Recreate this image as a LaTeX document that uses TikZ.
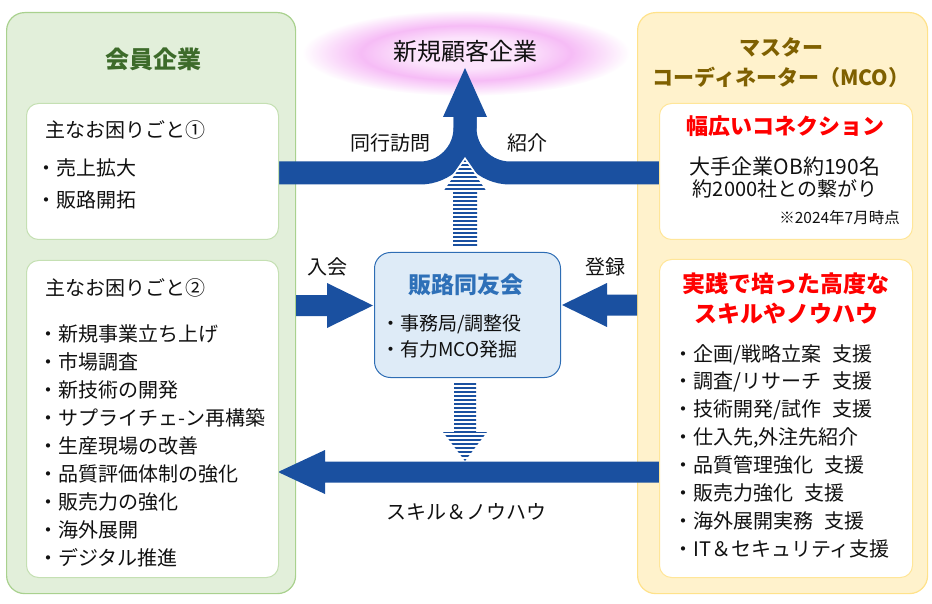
\documentclass[tikz,border=0pt]{standalone}
\usepackage{fontspec}
\setmainfont{Noto Sans CJK JP}
\usetikzlibrary{calc}

\definecolor{flowblue}{HTML}{1A50A0}
\definecolor{memfill}{HTML}{E2EFDA}
\definecolor{memline}{HTML}{A9D18E}
\definecolor{memedge}{HTML}{C5E0B3}
\definecolor{memtitle}{HTML}{3D6B2A}
\definecolor{mcofill}{HTML}{FFF2CC}
\definecolor{mcoline}{HTML}{FFE28A}
\definecolor{mcoedge}{HTML}{FFE699}
\definecolor{mcotitle}{HTML}{7F6000}
\definecolor{hubfill}{HTML}{DEEBF7}
\definecolor{hubline}{HTML}{2E6DB4}
\definecolor{hubtitle}{HTML}{2E70B8}
\definecolor{ink}{HTML}{111111}
\definecolor{glowA}{HTML}{FCE4FC}
\definecolor{glowB}{HTML}{F6BCF6}
\definecolor{glowC}{HTML}{FBE0FB}
\pgfdeclareradialshading{pinkglow}{\pgfpoint{0bp}{0bp}}{color(0bp)=(glowA); color(9bp)=(glowA); color(16bp)=(glowB); color(21bp)=(glowC); color(25bp)=(white); color(50bp)=(white)}

\newcommand{\itemgap}{\hspace{0.55em}}

\tikzset{
  panel/.style={draw, line width=1.2pt, rounded corners=18pt, anchor=north west, inner sep=0pt},
  card/.style={draw, fill=white, line width=1pt, rounded corners=12pt, anchor=north west, inner sep=0pt},
  lbl/.style={text=ink, inner sep=0pt, anchor=base, font=\fontsize{20}{24}\selectfont},
  item/.style={text=ink, inner sep=0pt, anchor=base west, font=\fontsize{20}{24}\selectfont},
  ttl/.style={inner sep=0pt, anchor=base, font=\fontsize{23}{28}\selectfont\bfseries},
}

\begin{document}
\begin{tikzpicture}[x=1pt, y=-1pt]
  \useasboundingbox (0,0) rectangle (932,604);

  % the two sides
  \node[panel, draw=memline, fill=memfill, minimum width=289pt, minimum height=581pt] (member) at (6,12) {};
  \node[panel, draw=mcoline, fill=mcofill, minimum width=290pt, minimum height=581pt] (mco) at (637,12) {};

  % glow behind the new customers
  \shade[shading=pinkglow] (466,53) ellipse [x radius=164pt, y radius=43pt];
  \node[lbl, font=\fontsize{24}{28}\selectfont] (newco) at (465,61) {新規顧客企業};

  % flow up to the new customers
  \coordinate (upTip) at (465,68);
  \draw[flowblue, line width=23pt] (278,173) -- (420,173) .. controls (444.8,173) and (465,152.8) .. (465,128) -- (465,116);
  \draw[flowblue, line width=23pt] (659,173) -- (510,173) .. controls (485.2,173) and (465,152.8) .. (465,128) -- (465,116);
  \fill[flowblue] (upTip) -- (487,117) -- (443,117) -- cycle;

  % striped arrow from the hub into the flow
  \fill[white] (452,246) -- (452,193) -- (440,193) -- (465,157) -- (490,193) -- (478,193) -- (478,246) -- cycle;
  \begin{scope}
    \clip (453,246) -- (453,192) -- (443,192) -- (465,160) -- (487,192) -- (477,192) -- (477,246) -- cycle;
    \foreach \s in {0,...,21}
      \fill[flowblue] (440,160+4*\s) rectangle (490,162+4*\s);
  \end{scope}

  % hub
  \node[card, draw=hubline, fill=hubfill, minimum width=186pt, minimum height=125pt, rounded corners=16pt] (hub) at (374,252) {};
  \node[ttl, text=hubtitle] (hubname) at (466,293) {販路同友会};
  \node[item, font=\fontsize{19}{23}\selectfont] (hub1) at (381,330) {・事務局/調整役};
  \node[item, font=\fontsize{19}{23}\selectfont] (hub2) at (381,356) {・有力MCO発掘};

  % join and register
  \coordinate (joinTip) at (373,305.5);
  \fill[flowblue] (member.east |- 0,295) -- (327,295) -- (327,283) -- (joinTip) -- ++(-46,22.5) -- ++(0,-12) -- (member.east |- 0,316) -- cycle;
  \node[lbl] (join) at (327,274) {入会};
  \coordinate (regTip) at (562,305);
  \fill[flowblue] (mco.west |- 0,294.5) -- (607,294.5) -- (607,283) -- (regTip) -- ++(45,22) -- ++(0,-11.5) -- (mco.west |- 0,315.5) -- cycle;
  \node[lbl] (reg) at (605,274) {登録};

  % striped arrow down from the hub
  \begin{scope}
    \clip (454,383) -- (476,383) -- (476,432) -- (487,432) -- (465,461) -- (443,432) -- (454,432) -- cycle;
    \foreach \s in {0,...,19}
      \fill[flowblue] (440,383+4*\s) rectangle (490,385+4*\s);
  \end{scope}

  % skills back to the members
  \coordinate (skillTip) at (278,472);
  \fill[flowblue] (659,461.5) -- (325,461.5) -- (325,450) -- (skillTip) -- ++(47,22) -- ++(0,-11.5) -- (659,482.5) -- cycle;
  \node[lbl] (skill) at (466,519) {スキル＆ノウハウ};

  \node[lbl] (visit) at (390,151) {同行訪問};
  \node[lbl] (intro) at (527,151) {紹介};

  % member side
  \node[ttl, text=memtitle, font=\fontsize{24}{28}\selectfont\bfseries] (memname) at (153,69) {会員企業};
  \node[card, draw=memedge, minimum width=252pt, minimum height=136pt] (need1) at (26,103) {};
  \node[card, draw=memedge, minimum width=252pt, minimum height=317pt] (need2) at (26,260) {};
  \node[item] (need1t) at (45,138) {主なお困りごと①};
  \node[item] (need1a) at (36,176) {・売上拡大};
  \node[item] (need1b) at (36,208) {・販路開拓};
  \node[item] (need2t) at (45,295) {主なお困りごと②};
  \foreach \t [count=\i from 0] in {新規事業立ち上げ, 市場調査, 新技術の開発, サプライチェ-ン再構築, 生産現場の改善, 品質評価体制の強化, 販売力の強化, 海外展開, デジタル推進}
    \node[item] (need2-\i) at (38,341+28.1*\i) {・\t};

  % coordinator side
  \node[ttl, text=mcotitle, font=\fontsize{21}{26}\selectfont\bfseries] (mcoA) at (781,56) {マスター};
  \node[ttl, text=mcotitle, font=\fontsize{21}{26}\selectfont\bfseries] (mcoB) at (781,86) {コーディネーター（MCO）};
  \node[card, draw=mcoedge, minimum width=253pt, minimum height=136pt] (reach) at (659,103) {};
  \node[card, draw=mcoedge, minimum width=253pt, minimum height=318pt] (know) at (659,259) {};
  \node[ttl, text=red, font=\fontsize{22}{26}\selectfont\bfseries] (reacht) at (785,135) {幅広いコネクション};
  \node[lbl, font=\fontsize{21}{24}\selectfont] (reacha) at (785,175) {大手企業OB約190名};
  \node[lbl] (reachb) at (785,197) {約2000社との繋がり};
  \node[text=ink, inner sep=0pt, anchor=base east, font=\fontsize{15.5}{18}\selectfont] (asof) at (900,224) {※2024年7月時点};
  \node[ttl, text=red] (knowA) at (786,292) {実践で培った高度な};
  \node[ttl, text=red] (knowB) at (786,322) {スキルやノウハウ};
  \foreach \t [count=\i from 0] in {企画/戦略立案\itemgap 支援, 調査/リサーチ\itemgap 支援, 技術開発/試作\itemgap 支援, {仕入先,外注先紹介}, 品質管理強化\itemgap 支援, 販売力強化\itemgap 支援, 海外展開実務\itemgap 支援, IT＆セキュリティ支援}
    \node[item] (know-\i) at (673,361+27.86*\i) {・\t};
\end{tikzpicture}
\end{document}
